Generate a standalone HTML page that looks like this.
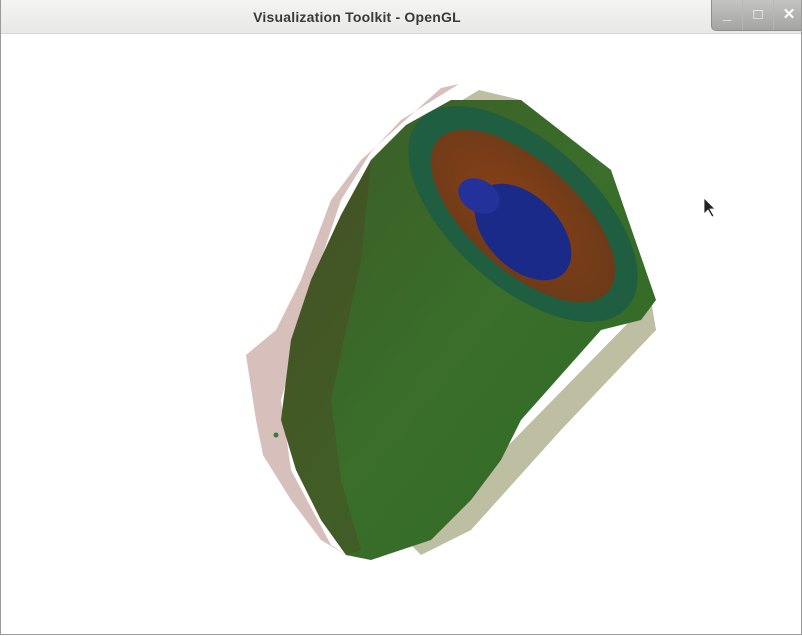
<!DOCTYPE html>
<html><head><meta charset="utf-8"><style>
html,body{margin:0;padding:0;background:#fff;}
#win{position:relative;width:800px;height:634px;border:1px solid #9a9a9a;border-top:none;overflow:hidden;background:#fff;font-family:"Liberation Sans",sans-serif;}
#title{position:absolute;left:0;top:0;width:800px;height:33px;background:linear-gradient(#f4f4f2,#e8e8e6);border-bottom:1px solid #d6d6d4;}
#title span{position:absolute;left:0;width:712px;text-align:center;top:9px;font-size:14px;font-weight:bold;color:#3a3a3a;letter-spacing:0.2px;}
#btns{position:absolute;left:710px;top:0;width:92px;height:30px;background:linear-gradient(#c4c4c2,#a4a4a2);border-bottom-left-radius:5px;border-left:1px solid #8e8e8c;border-bottom:1px solid #8e8e8c;}
.b{position:absolute;top:0;width:30px;height:30px;color:#fff;font-size:15px;font-weight:bold;text-align:center;line-height:30px;}
</style></head><body>
<div id="win">
<div id="title"><span>Visualization Toolkit - OpenGL</span>
<div id="btns">
<div class="b" style="left:0;border-right:1px solid #b8b8b6">_</div>
<div class="b" style="left:31px;border-right:1px solid #b8b8b6">□</div>
<div class="b" style="left:62px">✕</div>
</div></div>
<svg width="802" height="636" style="position:absolute;left:0;top:0">
<defs>
<linearGradient id="g1" x1="0" y1="0" x2="1" y2="1"><stop offset="0" stop-color="#3c5a26"/><stop offset="0.5" stop-color="#3a6e2a"/><stop offset="1" stop-color="#2e6a26"/></linearGradient>
<radialGradient id="rg" cx="0.45" cy="0.5" r="0.6"><stop offset="0" stop-color="#8a4018"/><stop offset="1" stop-color="#6a3a18"/></radialGradient>
</defs>
<polygon fill="#7a2a1e" opacity="0.3" points="440,88 458,84 400,120 370,152 340,200 320,260 300,330 280,400 290,470 330,545 350,558 320,540 290,500 262,455 255,420 245,355 275,330 300,280 330,200 360,160"/>
<polygon fill="#a8a884" opacity="0.75" points="458,102 478,90 520,100 650,300 655,330 560,430 470,530 420,555 410,545 630,320"/>
<path fill="url(#g1)" d="M405,125 L450,100 L520,100 L610,170 L655,300 L640,320 L600,330 L520,420 L500,460 L470,500 L430,540 L370,560 L345,555 L320,520 L295,470 L280,420 L290,340 L310,280 L340,215 L370,160 Z"/>
<path fill="#5a2a1a" opacity="0.25" d="M290,340 L310,280 L340,215 L370,160 L360,260 L330,400 L340,480 L360,550 L345,555 L320,520 L295,470 L280,420 Z"/>
<ellipse cx="522" cy="214" rx="140" ry="72" transform="rotate(42 522 214)" fill="#1f5e40"/>
<ellipse cx="522" cy="216" rx="114" ry="54" transform="rotate(42 522 216)" fill="url(#rg)"/>
<ellipse cx="522" cy="232" rx="58" ry="36" transform="rotate(45 522 232)" fill="#1a2a88"/>
<ellipse cx="478" cy="196" rx="22" ry="16" transform="rotate(30 478 196)" fill="#22329a"/>
<circle cx="275" cy="435" r="2.5" fill="#3a7a3a"/>
</svg>
<svg width="802" height="636" style="position:absolute;left:0;top:0;pointer-events:none"><polygon points="703,198 703,214 707,210 711,217 713,216 709,209 714,209" fill="#222" stroke="#fff" stroke-width="0.8"/></svg>
</div>
</body></html>
